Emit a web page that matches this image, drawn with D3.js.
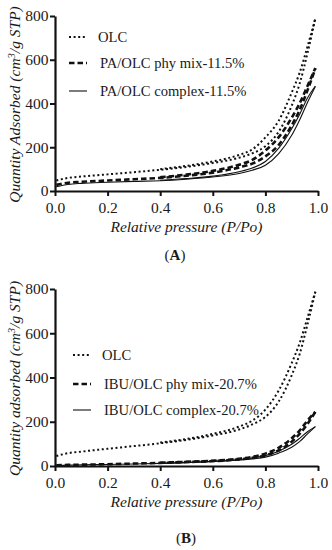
<!DOCTYPE html>
<html>
<head>
<meta charset="utf-8">
<script src="https://cdn.jsdelivr.net/npm/d3@7"></script>
<style>
  body { margin: 0; background: #fff; }
  text { font-family: "Liberation Serif", "DejaVu Serif", serif; fill: #1a1a1a; }
</style>
</head>
<body>
<div id="chart"></div>
<script>
// pressure grids (P/Po)
const adsP = [0.005, 0.05, 0.1, 0.2, 0.3, 0.4, 0.5, 0.6, 0.7, 0.75, 0.8, 0.85, 0.9, 0.93, 0.96, 0.99];
const desP = [0.4, 0.5, 0.6, 0.7, 0.75, 0.8, 0.85, 0.9, 0.93, 0.96, 0.99];

// panel A
const olcA_ads = [48, 60, 66, 76, 86, 97, 110, 128, 152, 172, 205, 270, 390, 490, 630, 790];
const olcA_des = [100, 115, 135, 165, 190, 245, 320, 450, 540, 660, 790];
const paMix_ads = [28, 38, 42, 48, 54, 60, 70, 84, 108, 125, 158, 210, 300, 370, 460, 560];
const paMix_des = [63, 75, 92, 120, 142, 185, 245, 335, 400, 480, 562];
const paCx_ads = [20, 30, 35, 40, 44, 47, 54, 64, 80, 95, 118, 170, 255, 325, 405, 478];
const paCx_des = [49, 57, 68, 88, 105, 135, 195, 285, 350, 425, 480];

// panel B
const olcB_ads = [45, 58, 65, 78, 90, 103, 118, 138, 165, 188, 222, 290, 410, 505, 640, 788];
const olcB_des = [106, 122, 145, 178, 205, 255, 340, 465, 555, 670, 788];
const ibuMix_ads = [3, 5, 6, 8, 11, 14, 18, 22, 30, 37, 48, 70, 110, 145, 190, 245];
const ibuMix_des = [15, 19, 24, 33, 41, 56, 82, 125, 160, 205, 245];
const ibuCx_ads = [2, 4, 5, 7, 9, 12, 15, 20, 27, 32, 40, 58, 85, 110, 145, 178];
const ibuCx_des = [13, 16, 21, 29, 36, 47, 67, 98, 125, 155, 178];

const yTicks = [0, 200, 400, 600, 800];
const xTicks = [0, 0.2, 0.4, 0.6, 0.8, 1.0];

const styles = {
  dot:   {w: 2,   dash: "2,2.6"},
  dash:  {w: 2.6, dash: "5.5,3"},
  solid: {w: 1.1, dash: null}
};

const panels = [
  {
    top: 16, bottom: 191, tag: "A",
    ytitle: "Quantity Adsorbed (cm", tagX: 175, tagY: 260,
    series: [
      {name: "OLC", style: "dot", ads: olcA_ads, des: olcA_des},
      {name: "PA/OLC phy mix-11.5%", style: "dash", ads: paMix_ads, des: paMix_des},
      {name: "PA/OLC complex-11.5%", style: "solid", ads: paCx_ads, des: paCx_des}
    ],
    legendX: 69, legendY: [37, 63, 91]
  },
  {
    top: 289, bottom: 466, tag: "B",
    ytitle: "Quantity adsorbed (cm", tagX: 186, tagY: 543,
    series: [
      {name: "OLC", style: "dot", ads: olcB_ads, des: olcB_des},
      {name: "IBU/OLC phy mix-20.7%", style: "dash", ads: ibuMix_ads, des: ibuMix_des},
      {name: "IBU/OLC complex-20.7%", style: "solid", ads: ibuCx_ads, des: ibuCx_des}
    ],
    legendX: 73, legendY: [355, 384, 410]
  }
];

const svg = d3.select("#chart").append("svg")
  .attr("width", 332).attr("height", 550);

const left = 55, right = 318;

panels.forEach(function(p) {
  const x = d3.scaleLinear().domain([0, 1]).range([left, right]);
  const y = d3.scaleLinear().domain([0, 800]).range([p.bottom, p.top]);
  const g = svg.append("g");

  const line = d3.line()
    .x(d => x(d[0]))
    .y(d => y(d[1]))
    .curve(d3.curveMonotoneX);

  // curves
  p.series.forEach(function(s) {
    const st = styles[s.style];
    [[adsP, s.ads], [desP, s.des]].forEach(function(br) {
      g.append("path")
        .datum(d3.zip(br[0], br[1]))
        .attr("d", line)
        .attr("fill", "none")
        .attr("stroke", "#111")
        .attr("stroke-width", st.w)
        .attr("stroke-dasharray", st.dash);
    });
  });

  // axes
  const xa = g.append("g")
    .attr("transform", `translate(0,${p.bottom})`)
    .call(d3.axisBottom(x).tickValues(xTicks).tickFormat(d3.format(".1f")).tickSize(5).tickSizeOuter(0));
  const ya = g.append("g")
    .attr("transform", `translate(${left},0)`)
    .call(d3.axisLeft(y).tickValues(yTicks).tickSize(5).tickSizeOuter(0));
  [xa, ya].forEach(function(a) {
    a.select(".domain").attr("stroke", "#111").attr("stroke-width", 2.2);
    a.selectAll(".tick line").attr("stroke", "#111").attr("stroke-width", 2);
    a.selectAll(".tick text").attr("font-size", 15.5).attr("fill", "#1a1a1a")
      .style("font-family", "'Liberation Serif', serif");
  });
  xa.selectAll(".tick text").attr("dy", "0.9em");
  ya.selectAll(".tick text").attr("dx", "0.1em");

  // axis titles
  g.append("text")
    .attr("x", (left + right) / 2)
    .attr("y", p.bottom + 41)
    .attr("text-anchor", "middle")
    .attr("font-size", 15.5)
    .attr("font-style", "italic")
    .text("Relative pressure (P/Po)");

  const yt = g.append("text")
    .attr("transform", `translate(20,${(p.top + p.bottom) / 2 + 1}) rotate(-90)`)
    .attr("text-anchor", "middle")
    .attr("font-size", 15.5)
    .attr("font-style", "italic");
  yt.append("tspan").text(p.ytitle);
  yt.append("tspan").attr("dy", -5).attr("font-size", 10.5).text("3");
  yt.append("tspan").attr("dy", 5).text("/g STP)");

  // panel tag
  const tg = g.append("text")
    .attr("x", p.tagX).attr("y", p.tagY)
    .attr("text-anchor", "middle")
    .attr("font-size", 15);
  tg.append("tspan").text("(");
  tg.append("tspan").attr("font-weight", "bold").text(p.tag);
  tg.append("tspan").text(")");

  // legend
  p.series.forEach(function(s, i) {
    const st = styles[s.style];
    const ly = p.legendY[i];
    g.append("line")
      .attr("x1", p.legendX).attr("x2", p.legendX + 18)
      .attr("y1", ly).attr("y2", ly)
      .attr("stroke", "#111")
      .attr("stroke-width", st.w)
      .attr("stroke-dasharray", st.dash);
    g.append("text")
      .attr("x", p.legendX + (i === 0 ? 29 : 31))
      .attr("y", ly + 5)
      .attr("font-size", 14.6)
      .text(s.name);
  });
});
</script>
</body>
</html>
